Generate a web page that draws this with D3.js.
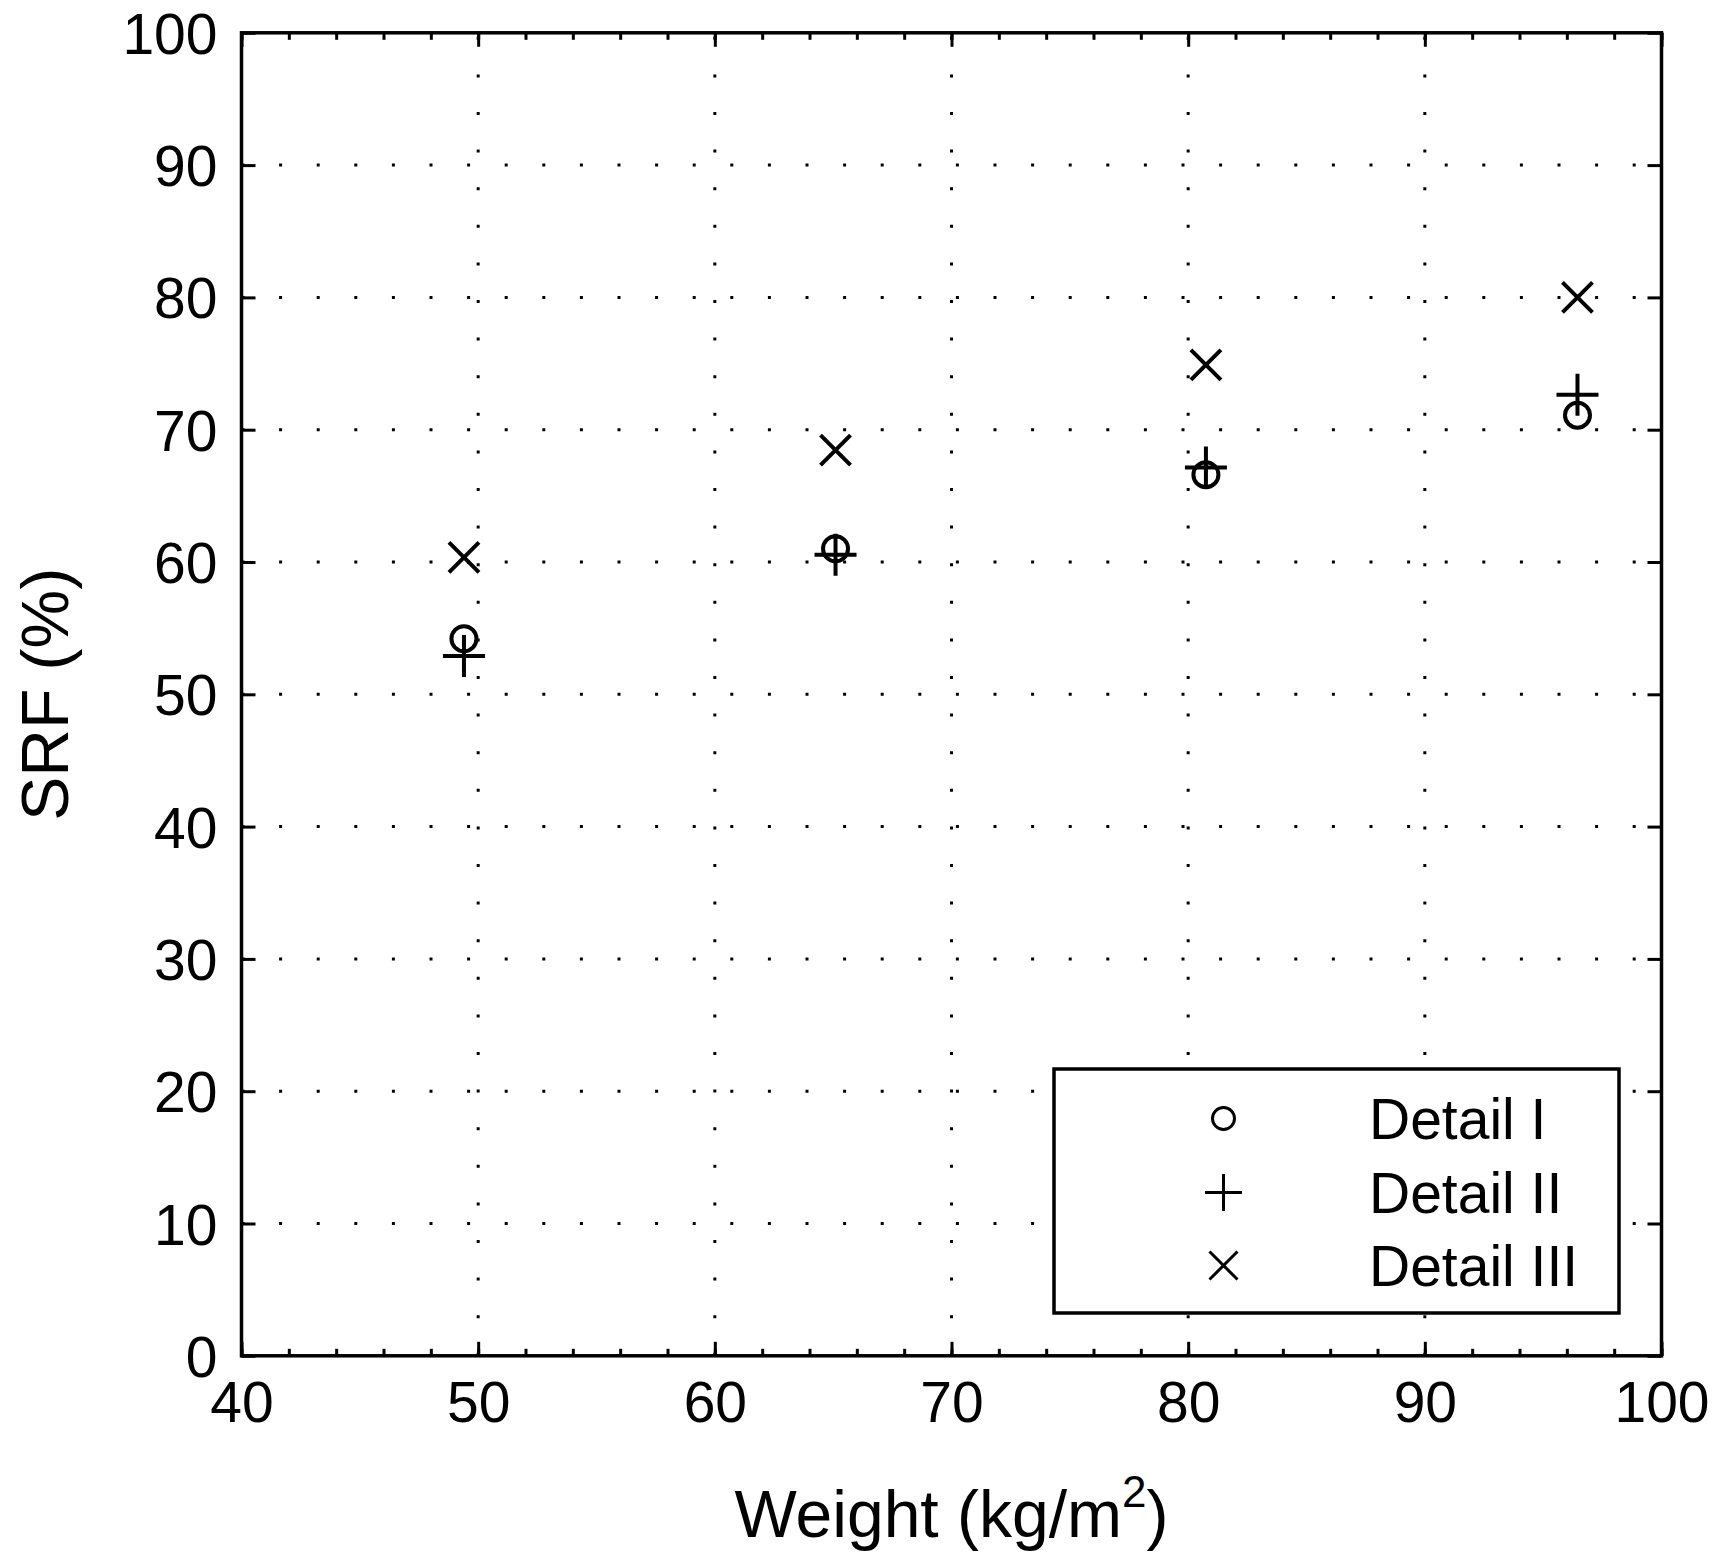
<!DOCTYPE html>
<html>
<head>
<meta charset="utf-8">
<script src="https://cdn.jsdelivr.net/npm/d3@7"></script>
<style>
  html, body { margin: 0; padding: 0; background: #fff; }
  svg { display: block; }
  text { font-family: "Liberation Sans", Arial, sans-serif; fill: #000; }
</style>
</head>
<body>
<svg id="chart" width="1713" height="1559"></svg>
<script>
// ---- data ----
const weights = [49.4, 65.1, 80.75, 96.45];
const detailI = [54.2, 61.0, 66.6, 71.1];
const detailII = [52.9, 60.55, 67.15, 72.65];
const detailIII = [60.35, 68.45, 74.9, 80.0];
const seriesNames = ["Detail I", "Detail II", "Detail III"];
const seriesSymbols = ["circle", "plus", "cross"];
const xTicks = [40, 50, 60, 70, 80, 90, 100];
const yTicks = [0, 10, 20, 30, 40, 50, 60, 70, 80, 90, 100];
const xMinorTicks = d3.range(40, 101, 2);

// ---- layout ----
const m = { left: 241.5, top: 32.8, right: 1661.5, bottom: 1355.8 };
const svg = d3.select("#chart");

const x = d3.scaleLinear().domain([40, 100]).range([m.left, m.right]);
const y = d3.scaleLinear().domain([0, 100]).range([m.bottom, m.top]);

const tickFont = 57;

// grid (dotted)
const grid = svg.append("g");
grid.selectAll("line.vg").data(xTicks.slice(1, -1)).join("line")
  .attr("x1", d => x(d)).attr("x2", d => x(d))
  .attr("y1", m.bottom).attr("y2", m.top)
  .attr("stroke", "#000").attr("stroke-width", 3)
  .attr("stroke-dasharray", "3 34.6");
grid.selectAll("line.hg").data(yTicks.slice(1, -1)).join("line")
  .attr("x1", m.left).attr("x2", m.right)
  .attr("y1", d => y(d)).attr("y2", d => y(d))
  .attr("stroke", "#000").attr("stroke-width", 3)
  .attr("stroke-dasharray", "3 34.6");

// axes
const axB = svg.append("g").attr("transform", `translate(0,${m.bottom})`)
  .call(d3.axisBottom(x).tickValues(xTicks).tickSize(-14).tickPadding(26).tickFormat(d3.format("d")));
const axBm = svg.append("g").attr("transform", `translate(0,${m.bottom})`)
  .call(d3.axisBottom(x).tickValues(xMinorTicks).tickSize(-7).tickFormat(""));
const axT = svg.append("g").attr("transform", `translate(0,${m.top})`)
  .call(d3.axisTop(x).tickValues(xTicks).tickSize(-14).tickFormat(""));
const axTm = svg.append("g").attr("transform", `translate(0,${m.top})`)
  .call(d3.axisTop(x).tickValues(xMinorTicks).tickSize(-7).tickFormat(""));
const axL = svg.append("g").attr("transform", `translate(${m.left},0)`)
  .call(d3.axisLeft(y).tickValues(yTicks).tickSize(-14).tickPadding(24).tickFormat(d3.format("d")));
const axR = svg.append("g").attr("transform", `translate(${m.right},0)`)
  .call(d3.axisRight(y).tickValues(yTicks).tickSize(-14).tickFormat(""));

[axB, axBm, axT, axTm, axL, axR].forEach(g => {
  g.select(".domain").remove();
  g.selectAll(".tick line").attr("stroke", "#000").attr("stroke-width", 3);
  g.selectAll("text").attr("font-size", tickFont)
    .attr("font-family", "Liberation Sans, Arial, sans-serif").attr("fill", "#000");
});
axB.selectAll("text").attr("dy", "0.71em");
axL.selectAll("text").attr("dy", "0.36em");

// frame
svg.append("rect")
  .attr("x", m.left).attr("y", m.top)
  .attr("width", m.right - m.left).attr("height", m.bottom - m.top)
  .attr("fill", "none").attr("stroke", "#000").attr("stroke-width", 3.5);

// symbols
function drawSymbol(g, type, cx, cy, s, sw) {
  if (type === "circle") {
    g.append("circle").attr("cx", cx).attr("cy", cy).attr("r", s.r)
      .attr("fill", "none").attr("stroke", "#000").attr("stroke-width", sw);
  } else if (type === "plus") {
    g.append("path")
      .attr("d", `M${cx - s.p},${cy}H${cx + s.p}M${cx},${cy - s.p}V${cy + s.p}`)
      .attr("stroke", "#000").attr("stroke-width", sw).attr("fill", "none");
  } else {
    g.append("path")
      .attr("d", `M${cx - s.c},${cy - s.c}L${cx + s.c},${cy + s.c}M${cx - s.c},${cy + s.c}L${cx + s.c},${cy - s.c}`)
      .attr("stroke", "#000").attr("stroke-width", sw).attr("fill", "none");
  }
}

const seriesValues = [detailI, detailII, detailIII];
const marks = svg.append("g");
const plotSize = { r: 12.5, p: 21, c: 15 };
seriesValues.forEach((vals, si) => {
  vals.forEach((v, i) => {
    drawSymbol(marks, seriesSymbols[si], x(weights[i]), y(v), plotSize, 4);
  });
});

// legend
const lg = svg.append("g");
const lgBox = { x0: 1054, y0: 1069, x1: 1619, y1: 1313 };
lg.append("rect").attr("x", lgBox.x0).attr("y", lgBox.y0)
  .attr("width", lgBox.x1 - lgBox.x0).attr("height", lgBox.y1 - lgBox.y0)
  .attr("fill", "#fff").attr("stroke", "#000").attr("stroke-width", 3.5);
const lgRowsY = [1118.5, 1192.5, 1265.5];
const lgSize = { r: 11, p: 18.5, c: 14 };
seriesNames.forEach((name, i) => {
  drawSymbol(lg, seriesSymbols[i], 1223.5, lgRowsY[i], lgSize, 3);
  lg.append("text").attr("x", 1369).attr("y", lgRowsY[i]).attr("dy", "0.36em")
    .attr("font-size", tickFont).text(name);
});

// axis titles
const xt = svg.append("text")
  .attr("x", (m.left + m.right) / 2).attr("y", 1537)
  .attr("text-anchor", "middle").attr("font-size", 66);
xt.append("tspan").text("Weight (kg/m");
xt.append("tspan").attr("font-size", 44).attr("dy", -30).text("2");
xt.append("tspan").attr("dy", 30).text(")");

svg.append("text")
  .attr("transform", `translate(68,${(m.top + m.bottom) / 2}) rotate(-90)`)
  .attr("text-anchor", "middle").attr("font-size", 66)
  .text("SRF (%)");
</script>
</body>
</html>
